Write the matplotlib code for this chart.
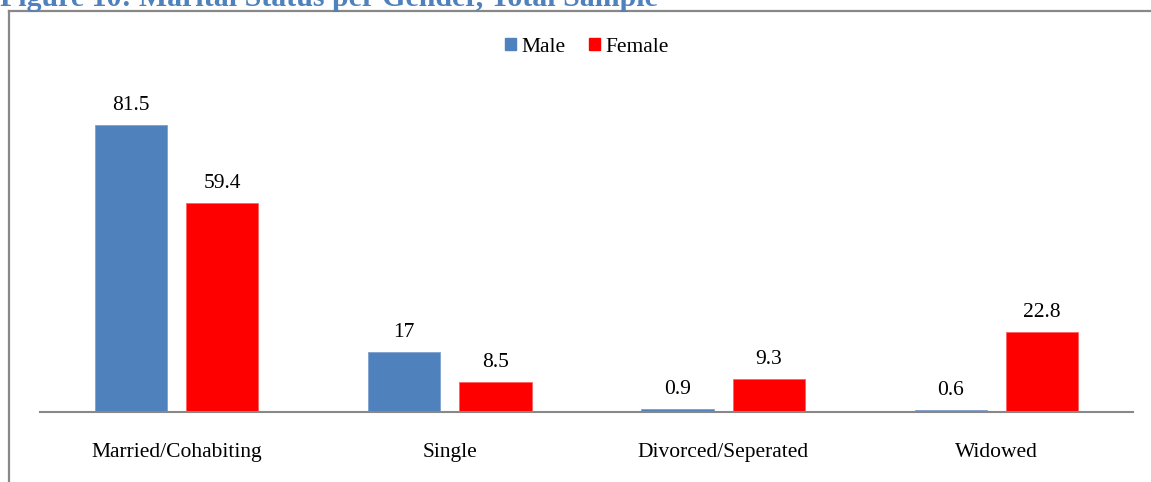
import matplotlib
matplotlib.use("Agg")
import matplotlib.pyplot as plt
import numpy as np
from matplotlib.lines import Line2D
from matplotlib.patches import Patch

categories = ["Married/Cohabiting", "Single", "Divorced/Seperated", "Widowed"]
male = [81.5, 17, 0.9, 0.6]
female = [59.4, 8.5, 9.3, 22.8]
male_labels = ["81.5", "17", "0.9", "0.6"]
female_labels = ["59.4", "8.5", "9.3", "22.8"]

BLUE = "#4F81BD"
RED = "#FF0000"
GRID = "#888888"
SERIF = ["Liberation Serif", "DejaVu Serif"]
FS = 15.5

W, H = 1151, 482
fig = plt.figure(figsize=(W / 100, H / 100), dpi=100)
fig.patch.set_facecolor("white")

# outer chart frame (left and top edges only visible)
fig.add_artist(Line2D([9 / W, 9 / W], [0, 1 - 11 / H], color=GRID, lw=1.6))
fig.add_artist(Line2D([9 / W, 1], [1 - 11 / H, 1 - 11 / H], color=GRID, lw=1.6))

# title, partly cut off at the top edge
fig.text(0, 1 - 6 / H, "Figure 10: Marital Status per Gender, Total Sample",
         family=SERIF, fontsize=21.5, fontweight="bold", color=BLUE,
         ha="left", va="baseline")

ax = fig.add_axes([40 / W, (H - 412) / H, 1093 / W, (412 - 60) / H])
x = np.arange(len(categories))
width = 0.264
off = 0.167
b1 = ax.bar(x - off, male, width, color=BLUE, edgecolor="#7FA1CF", lw=0.6, label="Male")
b2 = ax.bar(x + off, female, width, color=RED, edgecolor="#FF6060", lw=0.6, label="Female")

for bars, labels in ((b1, male_labels), (b2, female_labels)):
    for bar, lab in zip(bars, labels):
        ax.annotate(lab, (bar.get_x() + bar.get_width() / 2, bar.get_height()),
                    xytext=(0, 10), textcoords="offset pixels",
                    ha="center", va="bottom", family=SERIF, fontsize=FS)

ax.set_xlim(-0.5, len(categories) - 0.5)
ax.set_ylim(0, 100)
ax.set_xticks(x)
ax.set_xticklabels(categories, family=SERIF, fontsize=FS)
ax.tick_params(axis="x", length=0, pad=22.5)
ax.set_yticks([])
for side in ("top", "right", "left"):
    ax.spines[side].set_visible(False)
ax.spines["bottom"].set_color(GRID)
ax.spines["bottom"].set_linewidth(1.5)

handles = [Patch(color=BLUE), Patch(color=RED)]
fig.legend(handles, ["Male", "Female"], loc="center", bbox_to_anchor=(587 / W, 1 - 47 / H),
           ncol=2, frameon=False, prop={"family": SERIF, "size": FS},
           handlelength=0.5, handleheight=0.5, handletextpad=0.25, columnspacing=1.1)

fig.savefig("out.png", dpi=100, facecolor="white")
